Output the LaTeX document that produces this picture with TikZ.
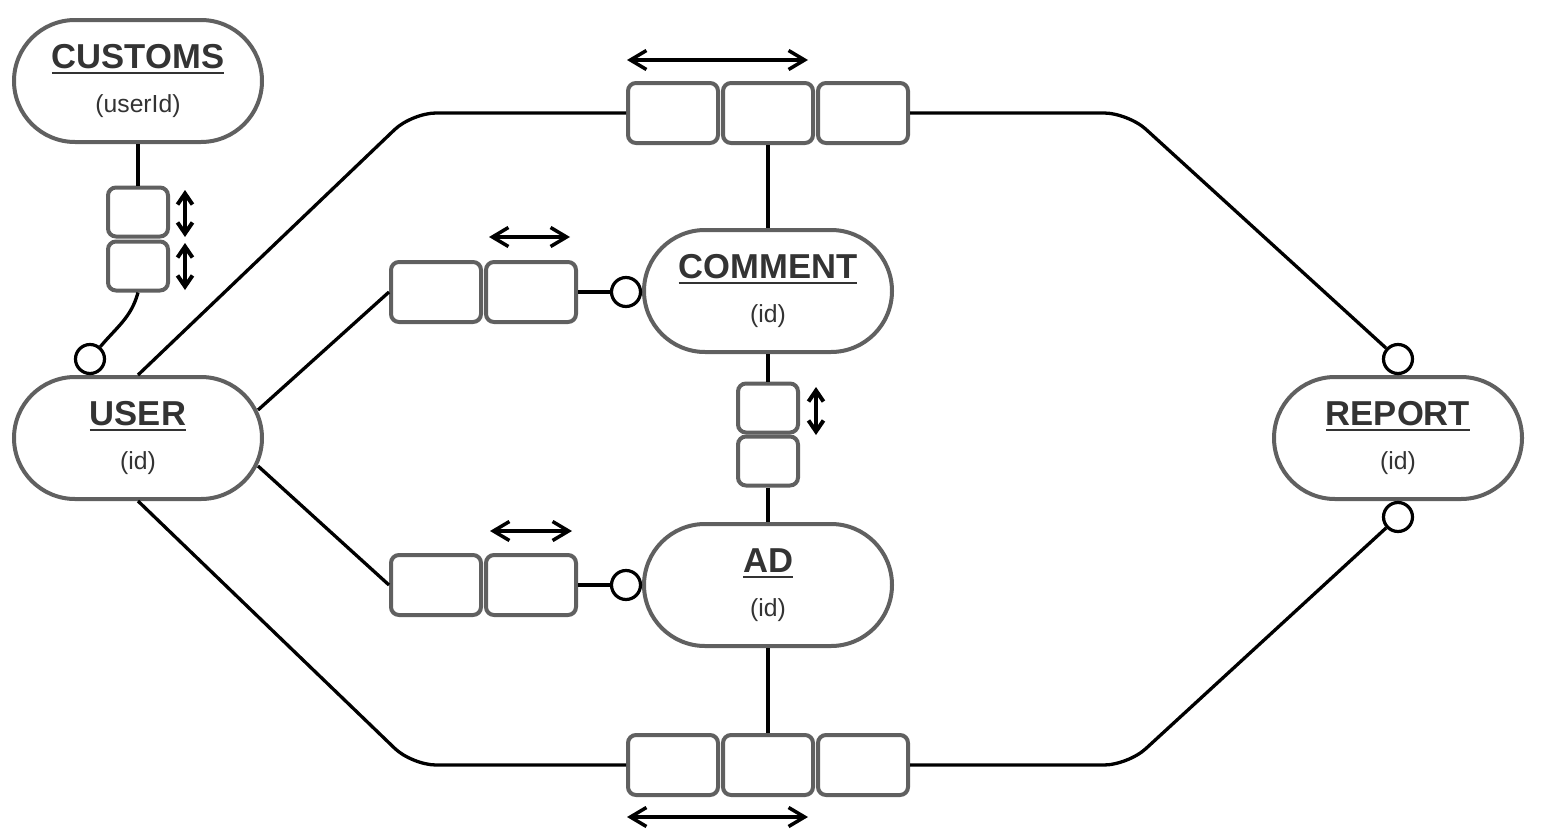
\documentclass[tikz,border=0pt]{standalone}
\usepackage{fontspec}
\setmainfont{Liberation Sans}
\usetikzlibrary{arrows.meta,calc}
\definecolor{bord}{RGB}{96,96,96}
\definecolor{txt}{RGB}{51,51,51}
\newcommand\myul[1]{\setbox0\hbox{#1}\rlap{\color{txt}\rule[-3.2pt]{\wd0}{1pt}}\box0}
\begin{document}
\begin{tikzpicture}[x=0.5pt,y=-0.5pt,
 entity/.style={draw=bord,line width=2pt,fill=white,rounded corners=30.5pt,minimum width=124pt,minimum height=61pt,inner sep=0pt,outer sep=1pt},
 cell/.style={draw=bord,line width=2pt,fill=white,rounded corners=4pt,minimum width=45pt,minimum height=30pt,inner sep=0pt,outer sep=1pt},
 vcell/.style={cell,minimum width=30pt,minimum height=24.5pt},
 ring/.style={circle,draw=black,line width=1.6pt,fill=white,minimum size=14.5pt,inner sep=0pt,outer sep=0.8pt},
 conn/.style={draw=black,line width=1.65pt},
 dbl/.style={line width=1.75pt,{Straight Barb[length=8pt,width=9.5pt]}-{Straight Barb[length=8pt,width=9.5pt]}},
 sdbl/.style={line width=2pt,{Straight Barb[length=5.5pt,width=7.5pt]}-{Straight Barb[length=5.5pt,width=7.5pt]}},
 ttl/.style={font=\fontsize{17.3}{20}\selectfont\bfseries,text=txt,anchor=base,inner sep=0pt},
 subt/.style={font=\fontsize{12.35}{15}\selectfont,text=txt,anchor=base,inner sep=0pt}]
\useasboundingbox (0,0) rectangle (1542,835);

% entities
\node[entity] (customs) at (138,81) {};
\node[ttl] (customsT) at (138,68) {\myul{CUSTOMS}};
\node[subt] (customsS) at (138,112) {(userId)};
\node[entity] (user) at (138,438) {};
\node[ttl] (userT) at (138,425) {\myul{USER}};
\node[subt] (userS) at (138,469) {(id)};
\node[entity] (comment) at (768,291) {};
\node[ttl] (commentT) at (768,278) {\myul{COMMENT}};
\node[subt] (commentS) at (768,322) {(id)};
\node[entity] (ad) at (768,585) {};
\node[ttl] (adT) at (768,572) {\myul{AD}};
\node[subt] (adS) at (768,616) {(id)};
\node[entity] (report) at (1398,438) {};
\node[ttl] (reportT) at (1398,425) {\myul{REPORT}};
\node[subt] (reportS) at (1398,469) {(id)};

% cells
\node[cell] (t1) at (673,113) {};
\node[cell] (t2) at (768,113) {};
\node[cell] (t3) at (863,113) {};
\node[cell] (b1) at (673,765) {};
\node[cell] (b2) at (768,765) {};
\node[cell] (b3) at (863,765) {};
\node[cell] (c1) at (436,292) {};
\node[cell] (c2) at (531,292) {};
\node[cell] (d1) at (436,585) {};
\node[cell] (d2) at (531,585) {};
\node[vcell] (k1) at (138,212) {};
\node[vcell] (k2) at (138,266) {};
\node[vcell] (v1) at (768,408) {};
\node[vcell] (v2) at (768,461) {};

% rings
\node[ring] (uc) at (90,359) {};
\node[ring] (rc1) at (1398,359) {};
\node[ring] (rc2) at (1398,517) {};
\node[ring] (cc) at (626,292) {};
\node[ring] (ac) at (626,585) {};

% free ends
\coordinate (u1) at (258,410);
\coordinate (u2) at (258,466);

% connectors
\draw[conn,rounded corners=12pt] (user.north) -- (412,113) -- (t1.west);
\draw[conn,rounded corners=12pt] (t3.east) -- (1128,113) -- (rc1);
\draw[conn,rounded corners=12pt] (user.south) -- (412,765) -- (b1.west);
\draw[conn,rounded corners=12pt] (b3.east) -- (1128,765) -- (rc2);
\draw[conn] (t2.south) -- (comment.north);
\draw[conn] (comment.south) -- (v1.north);
\draw[conn] (v2.south) -- (ad.north);
\draw[conn] (ad.south) -- (b2.north);
\draw[conn] (customs.south) -- (k1.north);
\draw[conn] (k2.south) to[out=-105,in=50] (uc);
\draw[conn] (u1) -- (c1.west);
\draw[conn] (u2) -- (d1.west);
\draw[conn] (c2.east) -- (cc);
\draw[conn] (d2.east) -- (ac);

% arrows
\coordinate (a1s) at (627,60);  \coordinate (a1e) at (808,60);
\coordinate (a2s) at (627,817); \coordinate (a2e) at (808,817);
\coordinate (a3s) at (489,237); \coordinate (a3e) at (570,237);
\coordinate (a4s) at (490,531); \coordinate (a4e) at (572,531);
\coordinate (a5s) at (185,190); \coordinate (a5e) at (185,237);
\coordinate (a6s) at (185,243); \coordinate (a6e) at (185,290);
\coordinate (a7s) at (816,387); \coordinate (a7e) at (816,435);
\draw[dbl] (a1s) -- (a1e);
\draw[dbl] (a2s) -- (a2e);
\draw[dbl] (a3s) -- (a3e);
\draw[dbl] (a4s) -- (a4e);
\draw[sdbl] (a5s) -- (a5e);
\draw[sdbl] (a6s) -- (a6e);
\draw[sdbl] (a7s) -- (a7e);
\end{tikzpicture}
\end{document}
